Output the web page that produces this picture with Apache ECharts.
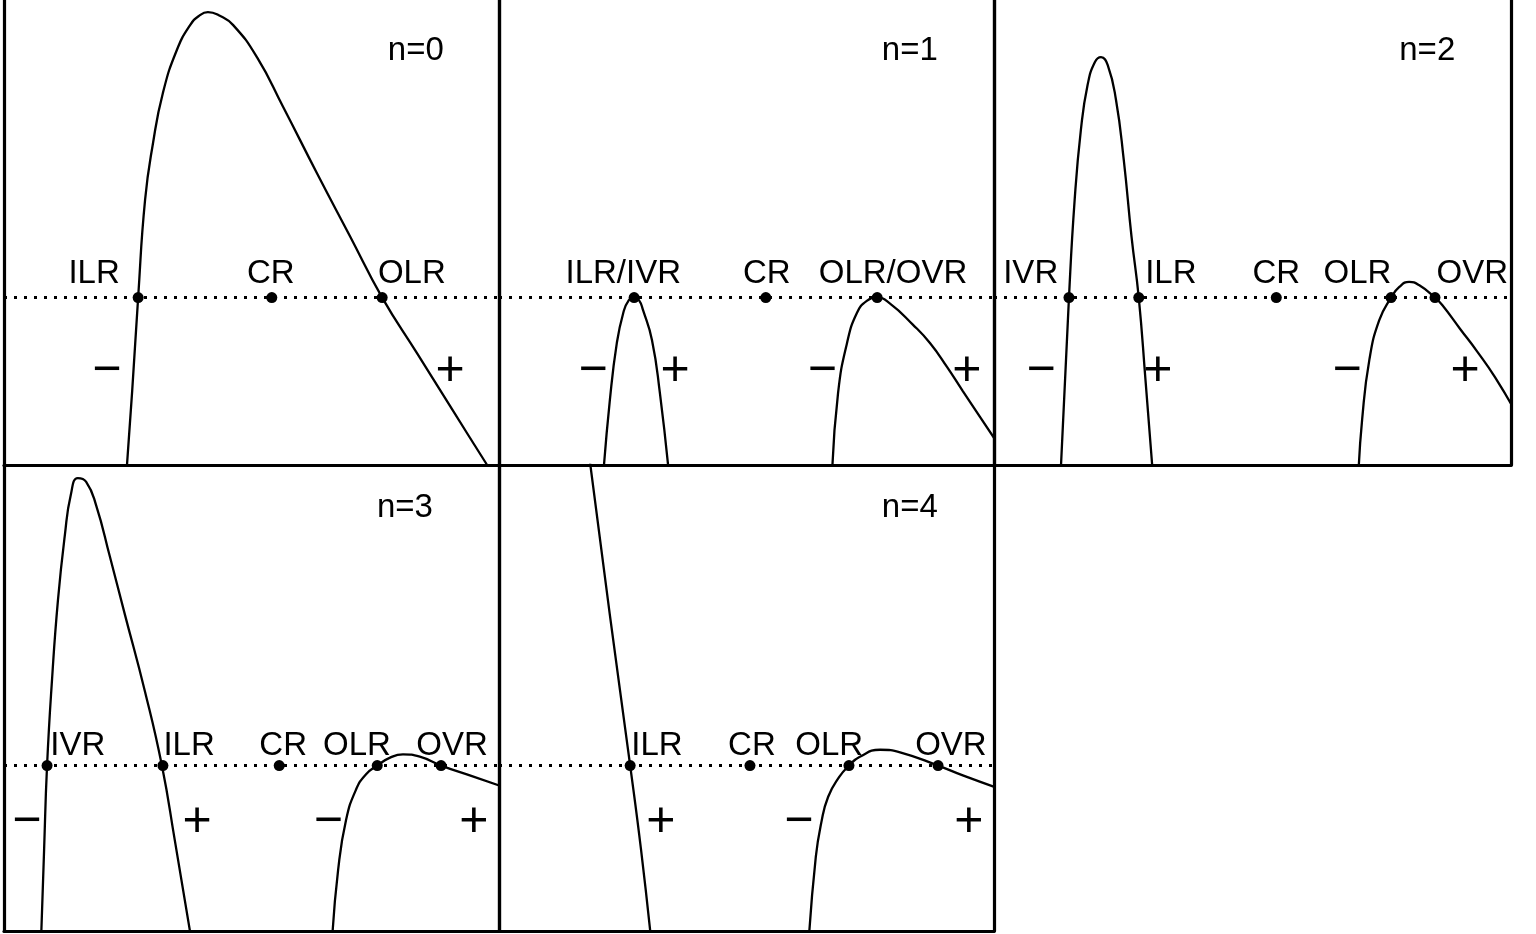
<!DOCTYPE html>
<html>
<head>
<meta charset="utf-8">
<title>Resonances n=0..4</title>
<style>
html,body{margin:0;padding:0;background:#fff}
#main{width:1536px;height:934px}
</style>
</head>
<body>
<div id="main"></div>
<script src="https://cdn.jsdelivr.net/npm/echarts@6/dist/echarts.min.js"></script>
<script>
// x = radius (0..10 across a panel), y = frequency, pattern speed at y = 0
var curveN0 = [[2.47,-3.82],[2.59,-2.0],[2.71,0],[2.85,2.10],[3.01,3.32],[3.21,4.40],[3.49,5.32],[3.76,5.86],[3.94,6.06],[4.12,6.14],[4.36,6.06],[4.63,5.86],[5.11,5.17],[5.64,4.10],[6.32,2.68],[6.99,1.32],[7.64,0],[8.34,-1.19],[9.01,-2.33],[9.76,-3.6],[9.92,-3.86]];
var curveN1a = [[2.11,-3.75],[2.24,-2.20],[2.38,-0.98],[2.51,-0.33],[2.62,-0.06],[2.73,0],[2.83,-0.06],[2.91,-0.27],[3.09,-0.91],[3.25,-2.05],[3.43,-3.75]];
var curveN1b = [[6.73,-3.75],[6.85,-2.05],[7.03,-0.98],[7.23,-0.33],[7.43,-0.07],[7.64,0],[7.90,-0.13],[8.36,-0.58],[8.71,-0.98],[9.05,-1.49],[9.37,-2.01],[9.72,-2.57],[10.12,-3.21]];
var curveN2a = [[1.29,-3.75],[1.45,0],[1.56,2.10],[1.68,3.60],[1.81,4.57],[1.95,5.06],[2.07,5.17],[2.20,5.00],[2.36,4.25],[2.51,2.96],[2.66,1.31],[2.80,0],[2.93,-1.77],[3.07,-3.75]];
var curveN2b = [[7.05,-3.75],[7.12,-2.63],[7.26,-1.34],[7.45,-0.49],[7.68,0],[7.84,0.23],[8.03,0.34],[8.22,0.27],[8.53,0],[8.67,-0.16],[9.02,-0.68],[9.34,-1.15],[9.69,-1.71],[10.12,-2.52]];
var curveN3a = [[0.75,-3.70],[0.81,-1.81],[0.87,0],[0.97,1.84],[1.09,3.55],[1.23,4.95],[1.35,5.81],[1.49,6.17],[1.66,6.09],[1.86,5.59],[2.14,4.48],[2.44,3.25],[2.85,1.58],[3.19,0],[3.45,-1.60],[3.78,-3.70]];
var curveN3b = [[6.63,-3.70],[6.75,-2.24],[6.91,-1.17],[7.11,-0.52],[7.31,-0.19],[7.54,0],[7.80,0.17],[8.06,0.24],[8.40,0.19],[8.83,0],[9.41,-0.21],[10.12,-0.47]];
var curveN4a = [[1.82,6.66],[2.24,3.23],[2.65,0],[2.87,-1.81],[3.07,-3.70]];
var curveN4b = [[6.26,-3.70],[6.40,-1.96],[6.51,-1.23],[6.65,-0.67],[6.87,-0.25],[7.07,0],[7.29,0.19],[7.70,0.34],[8.12,0.28],[8.87,0],[9.37,-0.21],[10.12,-0.50]];

// resonance radii (dots on the pattern-speed line)
var dotsN0 = [2.71, 5.41, 7.64];
var dotsN1 = [2.73, 5.39, 7.64];
var dotsN2 = [1.45, 2.80, 5.46, 7.68, 8.53];
var dotsN3 = [0.87, 3.21, 5.56, 7.54, 8.83];
var dotsN4 = [2.65, 5.07, 7.07, 8.87];

// resonance names and where they sit
var labelsN0 = [['ILR',1.82],['CR',5.39],['OLR',8.24]];
var labelsN1 = [['ILR/IVR',2.51],['CR',5.41],['OLR/OVR',7.96]];
var labelsN2 = [['IVR',0.71],['ILR',3.42],['CR',5.46],['OLR',7.03],['OVR',9.25]];
var labelsN3 = [['IVR',1.49],['ILR',3.74],['CR',5.64],['OLR',7.13],['OVR',9.05]];
var labelsN4 = [['ILR',3.19],['CR',5.11],['OLR',6.67],['OVR',9.13]];

// signs of the slope
var signsN0 = [['\u2212',2.08],['+',9.01]];
var signsN1 = [['\u2212',1.90],['+',3.56],['\u2212',6.53],['+',9.45]];
var signsN2 = [['\u2212',0.91],['+',3.17],['\u2212',6.83],['+',9.11]];
var signsN3 = [['\u2212',0.46],['+',3.90],['\u2212',6.55],['+',9.49]];
var signsN4 = [['+',3.27],['\u2212',6.06],['+',9.49]];

var titles = ['n=0','n=1','n=2','n=3','n=4'];
var titleX = [8.32, 8.30, 8.38, 8.10, 8.30];

var panels = [
  {curves:[curveN0], dots:dotsN0, labels:labelsN0, signs:signsN0},
  {curves:[curveN1a, curveN1b], dots:dotsN1, labels:labelsN1, signs:signsN1},
  {curves:[curveN2a, curveN2b], dots:dotsN2, labels:labelsN2, signs:signsN2},
  {curves:[curveN3a, curveN3b], dots:dotsN3, labels:labelsN3, signs:signsN3},
  {curves:[curveN4a, curveN4b], dots:dotsN4, labels:labelsN4, signs:signsN4}
];

// layout
var boxes = [
  {left:4, top:0, width:495, height:465},
  {left:499, top:0, width:495, height:465},
  {left:994, top:0, width:517, height:465},
  {left:4, top:465, width:495, height:466},
  {left:499, top:465, width:495, height:466}
];
var rows = [0,0,0,1,1];
var yMin = [-3.6, -3.55], yMax = [6.4, 6.45];
var labelY = [0.51, 0.42], signY = [-1.59, -1.21], titleY = [5.30, 5.53];

var font = 'Liberation Sans, Arial, Helvetica, sans-serif';
var frame = {show: true, onZero: false, lineStyle: {color: '#000', width: 3.2}};
var grids = [], xAxes = [], yAxes = [], series = [];

function textSeries(i, items, y, size) {
  return {
    type: 'scatter', xAxisIndex: i, yAxisIndex: 2 * i, silent: true,
    symbolSize: 1, itemStyle: {color: 'rgba(0,0,0,0)', opacity: 1},
    data: items.map(function (t) { return {name: t[0], value: [t[1], y]}; }),
    label: {show: true, position: 'inside', formatter: '{b}', color: '#000',
      fontSize: size, fontFamily: font},
    z: 5
  };
}

panels.forEach(function (p, i) {
  var r = rows[i];
  grids.push({left: boxes[i].left, top: boxes[i].top, width: boxes[i].width, height: boxes[i].height,
    show: false, containLabel: false});
  // bottom, left and right edges of the panel are drawn as axis lines
  xAxes.push({type: 'value', gridIndex: i, min: 0, max: 10, position: 'bottom',
    axisLine: frame, axisTick: {show: false}, axisLabel: {show: false}, splitLine: {show: false}});
  yAxes.push({type: 'value', gridIndex: i, min: yMin[r], max: yMax[r], position: 'left',
    axisLine: frame, axisTick: {show: false}, axisLabel: {show: false}, splitLine: {show: false}});
  yAxes.push({type: 'value', gridIndex: i, min: yMin[r], max: yMax[r], position: 'right',
    axisLine: frame, axisTick: {show: false}, axisLabel: {show: false}, splitLine: {show: false}});

  // pattern speed line
  series.push({type: 'line', xAxisIndex: i, yAxisIndex: 2 * i, data: [[0,0],[10,0]], symbol: 'none', silent: true,
    lineStyle: {color: '#000', width: 3, type: [3,7], cap: 'butt'}, z: 2});

  p.curves.forEach(function (c) {
    series.push({type: 'line', xAxisIndex: i, yAxisIndex: 2 * i, data: c, smooth: 0.5, symbol: 'none',
      silent: true, lineStyle: {color: '#000', width: 2.3}, z: 3});
  });

  series.push({type: 'scatter', xAxisIndex: i, yAxisIndex: 2 * i, silent: true,
    data: p.dots.map(function (x) { return [x, 0]; }), symbolSize: 11,
    itemStyle: {color: '#000', opacity: 1}, z: 4});

  series.push(textSeries(i, p.labels, labelY[r], 33));
  series.push(textSeries(i, p.signs, signY[r], 50));
  series.push(textSeries(i, [[titles[i], titleX[i]]], titleY[r], 33));
});

var chart = echarts.init(document.getElementById('main'));
chart.setOption({
  animation: false,
  backgroundColor: '#fff',
  grid: grids,
  xAxis: xAxes,
  yAxis: yAxes,
  series: series
});
</script>
</body>
</html>
